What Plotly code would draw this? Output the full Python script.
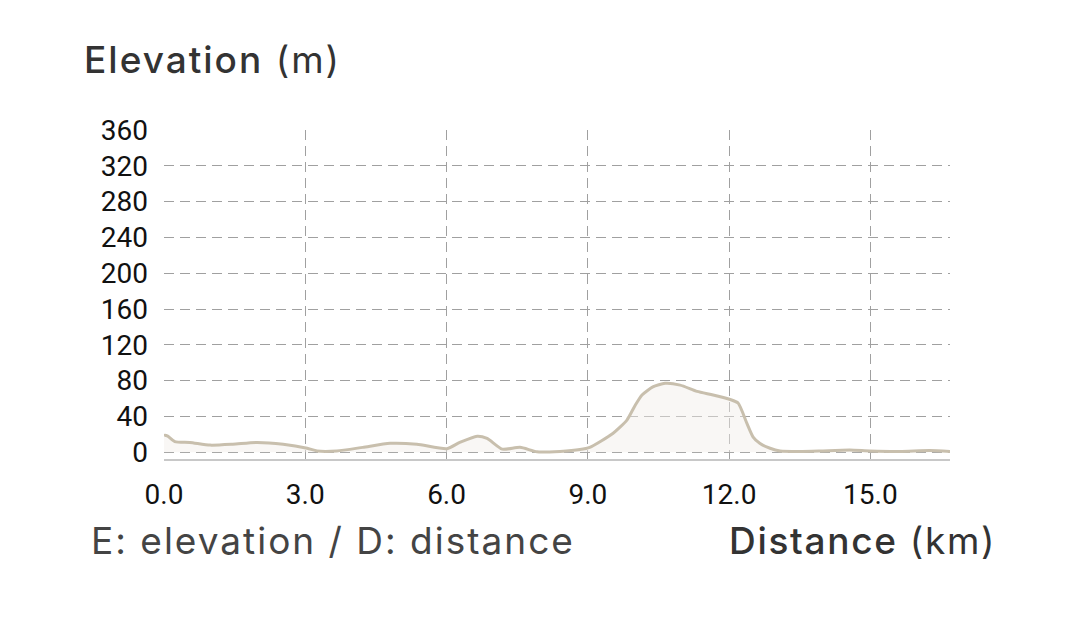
import plotly.graph_objects as go

distance_km = [0.0, 0.02, 0.08, 0.23, 0.55, 0.98, 1.46, 1.97, 2.53, 3.04, 3.25, 3.67,
               4.22, 4.80, 5.37, 6.01, 6.28, 6.65, 6.86, 7.18, 7.56, 7.92, 8.41, 8.83,
               9.04, 9.53, 9.83, 10.0, 10.15, 10.38, 10.64, 10.96, 11.32, 11.66, 12.02,
               12.19, 12.38, 12.51, 12.65, 12.87, 13.08, 13.5, 13.93, 14.56, 14.99,
               15.63, 16.26, 16.69]
elevation_m = [18, 19, 18, 12, 11, 8, 9, 11, 9, 4.5, 1.5, 1.5,
               5.5, 10, 9, 4, 11, 18, 15.5, 3.5, 5.5, 0.5, 1, 3,
               5.5, 21, 36, 52, 64, 73, 77, 75, 68, 64, 59,
               55, 32, 17, 10, 4.5, 1.5, 1, 1.5, 2.5, 1.5,
               1, 2, 1]

y_ticks = [0, 40, 80, 120, 160, 200, 240, 280, 320, 360]
x_ticks = [0.0, 3.0, 6.0, 9.0, 12.0, 15.0]

TICK_FONT = "Roboto"
TEXT_FONT = "Inter"
LS = "letter-spacing:2px"
LS2 = "letter-spacing:1.7px"

fig = go.Figure()
fig.add_trace(go.Scatter(
    x=distance_km, y=elevation_m, mode="lines",
    line=dict(color="#c8bfad", width=3, shape="spline", smoothing=0.6),
    fill="tozeroy", fillcolor="rgba(242,238,232,0.45)",
    hoverinfo="skip", showlegend=False,
))

fig.update_layout(
    width=1079, height=625,
    margin=dict(l=156, r=137, t=122, b=174),
    paper_bgcolor="white", plot_bgcolor="white",
    font=dict(family=TICK_FONT, color="#111111", size=28),
    xaxis=dict(
        range=[0, 16.69], tickvals=x_ticks, ticktext=[f"{v:.1f}" for v in x_ticks],
        showgrid=True, gridcolor="#a0a0a0", griddash="10px,6px", gridwidth=1,
        zeroline=False, showline=True, linecolor="#c8c8c8", linewidth=2,
        ticks="", ticklabelstandoff=9,
        tickfont=dict(family=TICK_FONT, size=28, color="#111111"),
    ),
    yaxis=dict(
        range=[-7.5, 360], tickvals=y_ticks,
        showgrid=True, gridcolor="#a0a0a0", griddash="10px,6px", gridwidth=1,
        zeroline=False, showline=False,
        ticks="", ticklabelstandoff=15,
        tickfont=dict(family=TICK_FONT, size=28, color="#111111"),
    ),
    annotations=[
        dict(text=f'<span style="font-weight:500;{LS}">Elevation</span><span style="{LS}"> (m)</span>',
             xref="paper", yref="paper",
             x=-0.1043, y=1.140, xanchor="left", yanchor="bottom", showarrow=False,
             font=dict(family=TEXT_FONT, size=37, color="#333333")),
        dict(text=f'<span style="{LS}">E: elevation / D: distance</span>', xref="paper", yref="paper",
             x=-0.0954, y=-0.2477, xanchor="left", yanchor="middle", showarrow=False,
             font=dict(family=TEXT_FONT, size=37, color="#444444")),
        dict(text=f'<span style="font-weight:500;{LS2}">Distance</span><span style="{LS2}"> (km)</span>',
             xref="paper", yref="paper",
             x=1.061, y=-0.2477, xanchor="right", yanchor="middle", showarrow=False,
             font=dict(family=TEXT_FONT, size=37, color="#333333")),
    ],
)

fig.write_html("out.html")
